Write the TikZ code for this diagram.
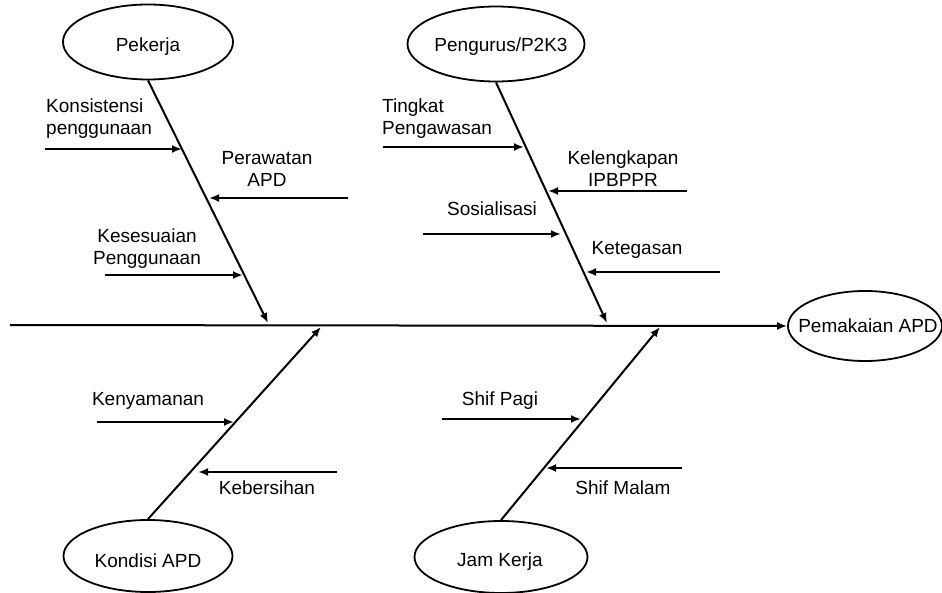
\documentclass[tikz,border=0pt]{standalone}
\usepackage{fontspec}
\setmainfont{Liberation Sans}
\usetikzlibrary{shapes.geometric,arrows.meta}
\newcommand{\elabel}[3][0pt]{\raisebox{-#2}[0pt][0pt]{\hspace*{#1}\makebox[0pt]{#3}}}
\tikzset{
  cause/.style={ellipse, draw, line width=1.8pt, inner sep=0pt, font=\fontsize{19}{22}\selectfont},
  lbl/.style={inner sep=0pt, font=\fontsize{19}{22}\selectfont},
  bone/.style={line width=2pt, -{Latex[length=10pt,width=8pt]}},
  sub/.style={line width=2pt, -{Latex[length=10pt,width=8pt]}}
}
\begin{document}
\begin{tikzpicture}[x=1pt,y=-1pt]
\useasboundingbox (0,0) rectangle (942,593);
% cause ellipses
\node[cause, minimum width=170pt, minimum height=75pt] (pek) at (148,42) {\elabel{10pt}{Pekerja}};
\node[cause, minimum width=177pt, minimum height=75pt] (pg) at (496,44) {\elabel[10pt]{8pt}{Pengurus/P2K3}};
\node[cause, minimum width=169pt, minimum height=72pt] (ko) at (148,556) {\elabel{11pt}{Kondisi APD}};
\node[cause, minimum width=173pt, minimum height=72pt] (jk) at (501,557) {\elabel[-2pt]{9.5pt}{Jam Kerja}};
\node[cause, minimum width=154pt, minimum height=70pt] (pa) at (865,326) {\elabel[6pt]{6.5pt}{Pemakaian APD}};
% spine
\coordinate (s0) at (10,325);
\draw[bone] (s0) -- (pa.west);
% bones
\coordinate (t1) at (268,323);
\coordinate (t2) at (607,323);
\coordinate (t3) at (321,327);
\coordinate (t4) at (660,327);
\draw[bone] (pek.south) -- (t1);
\draw[bone] (pg.south) -- (t2);
\draw[bone] (ko.north) -- (t3);
\draw[bone] (jk.north) -- (t4);
% Pekerja sub-causes
\coordinate (a1s) at (45,149);  \coordinate (a1e) at (182,149);
\coordinate (a2s) at (348,198); \coordinate (a2e) at (209,198);
\coordinate (a3s) at (105,275); \coordinate (a3e) at (243,275);
\draw[sub] (a1s) -- (a1e);
\draw[sub] (a2s) -- (a2e);
\draw[sub] (a3s) -- (a3e);
\node[lbl, anchor=west, align=left] (l1) at (46,119) {Konsistensi\\penggunaan};
\node[lbl, align=center] (l2) at (267,169) {Perawatan\\APD};
\node[lbl, align=center] (l3) at (147,249) {Kesesuaian\\Penggunaan};
% Pengurus sub-causes
\coordinate (b1s) at (383,147); \coordinate (b1e) at (524,147);
\coordinate (b2s) at (687,191); \coordinate (b2e) at (548,191);
\coordinate (b3s) at (423,234); \coordinate (b3e) at (561,234);
\coordinate (b4s) at (720,272); \coordinate (b4e) at (586,272);
\draw[sub] (b1s) -- (b1e);
\draw[sub] (b2s) -- (b2e);
\draw[sub] (b3s) -- (b3e);
\draw[sub] (b4s) -- (b4e);
\node[lbl, anchor=west, align=left] (m1) at (382,119) {Tingkat\\Pengawasan};
\node[lbl, align=center] (m2) at (623,169) {Kelengkapan\\IPBPPR};
\node[lbl] (m3) at (492,209) {Sosialisasi};
\node[lbl] (m4) at (637,250) {Ketegasan};
% Kondisi APD sub-causes
\coordinate (c1s) at (97,422);  \coordinate (c1e) at (234,422);
\coordinate (c2s) at (337,472); \coordinate (c2e) at (198,472);
\draw[sub] (c1s) -- (c1e);
\draw[sub] (c2s) -- (c2e);
\node[lbl] (n1) at (148,401) {Kenyamanan};
\node[lbl] (n2) at (267,488) {Kebersihan};
% Jam Kerja sub-causes
\coordinate (d1s) at (442,419); \coordinate (d1e) at (581,419);
\coordinate (d2s) at (682,468); \coordinate (d2e) at (546,468);
\draw[sub] (d1s) -- (d1e);
\draw[sub] (d2s) -- (d2e);
\node[lbl] (o1) at (500,401) {Shif Pagi};
\node[lbl] (o2) at (623,488) {Shif Malam};
\end{tikzpicture}
\end{document}
